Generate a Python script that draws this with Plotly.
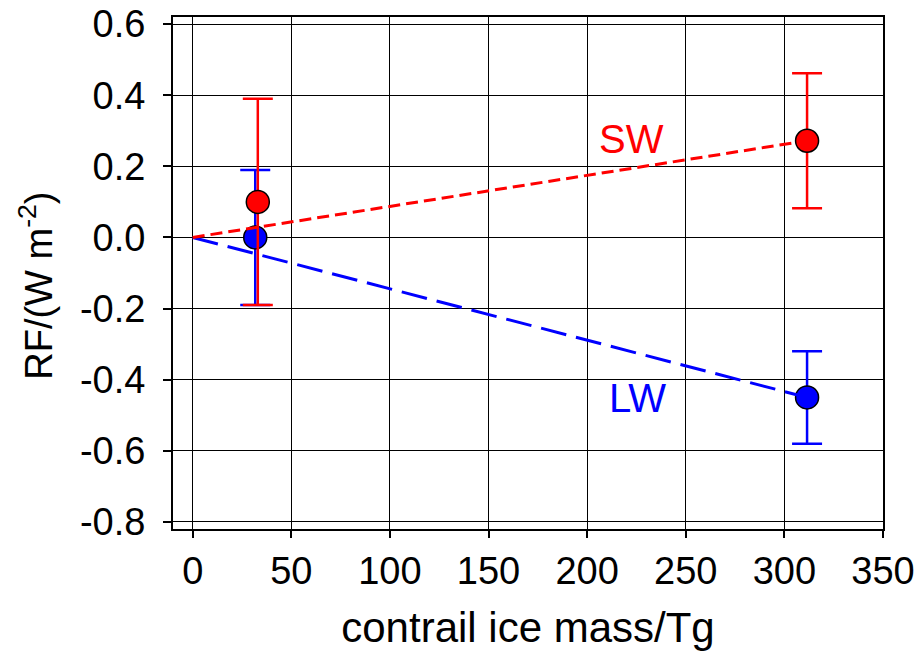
import plotly.graph_objects as go

# Data
mass_lw = [31.7, 311.5]
rf_lw = [0.0, -0.45]
err_lw = [0.19, 0.13]

mass_sw = [33.0, 311.5]
rf_sw = [0.10, 0.272]
err_sw = [0.29, 0.19]

# fitted lines through origin
line_x = [0, 311.5]
line_sw = [0, 0.272]
line_lw = [0, -0.45]

xticks = [0, 50, 100, 150, 200, 250, 300, 350]
yticks = [-0.8, -0.6, -0.4, -0.2, 0.0, 0.2, 0.4, 0.6]
ytick_text = ["-0.8", "-0.6", "-0.4", "-0.2", "0.0", "0.2", "0.4", "0.6"]

FONT = "Liberation Sans, Arial, sans-serif"
RED = "#ff0000"
BLUE = "#0000ff"

fig = go.Figure()

fig.add_trace(go.Scatter(
    x=mass_lw, y=rf_lw, mode="markers",
    marker=dict(size=23, color=BLUE, line=dict(color="black", width=1.5)),
    error_y=dict(type="data", array=err_lw, color=BLUE, thickness=2.5, width=15),
    showlegend=False, hoverinfo="skip"))

fig.add_trace(go.Scatter(
    x=line_x, y=line_lw, mode="lines",
    line=dict(color=BLUE, width=3, dash="26px,10px"),
    showlegend=False, hoverinfo="skip"))

fig.add_trace(go.Scatter(
    x=line_x, y=line_sw, mode="lines",
    line=dict(color=RED, width=3, dash="12px,6px"),
    showlegend=False, hoverinfo="skip"))

fig.add_trace(go.Scatter(
    x=mass_sw, y=rf_sw, mode="markers",
    marker=dict(size=23, color=RED, line=dict(color="black", width=1.5)),
    error_y=dict(type="data", array=err_sw, color=RED, thickness=2.5, width=15),
    showlegend=False, hoverinfo="skip"))

fig.add_annotation(x=222.6, y=0.278, xref="x", yref="y", text="SW",
                   showarrow=False, font=dict(family=FONT, size=40, color=RED))
fig.add_annotation(x=225.6, y=-0.452, xref="x", yref="y", text="LW",
                   showarrow=False, font=dict(family=FONT, size=40, color=BLUE))

# y-axis title placed as a rotated annotation for exact positioning
fig.add_annotation(x=-0.193, y=0.475, xref="paper", yref="paper",
                   text="RF/(W m<sup>-2</sup>)", textangle=-90,
                   xanchor="center", yanchor="middle", showarrow=False,
                   font=dict(family=FONT, size=38, color="black"))

fig.update_layout(
    width=919, height=661,
    margin=dict(l=173, r=36, t=17, b=132, autoexpand=False),
    paper_bgcolor="white", plot_bgcolor="white",
    font=dict(family=FONT, color="black"),
    xaxis=dict(
        range=[-10, 350], tickmode="array", tickvals=xticks,
        ticks="outside", ticklen=7, tickwidth=1.5, tickcolor="black",
        showgrid=True, gridcolor="black", gridwidth=1,
        showline=True, linecolor="black", linewidth=2, mirror=True,
        zeroline=False, automargin=False,
        tickfont=dict(family=FONT, size=38, color="black"),
        title=dict(text="contrail ice mass/Tg", font=dict(family=FONT, size=42, color="black"), standoff=22),
    ),
    yaxis=dict(
        range=[-0.82, 0.62], tickmode="array", tickvals=yticks, ticktext=ytick_text,
        ticks="outside", ticklen=8, tickwidth=1.5, tickcolor="black",
        showgrid=True, gridcolor="black", gridwidth=1,
        showline=True, linecolor="black", linewidth=2, mirror=True,
        zeroline=False, automargin=False, ticklabelstandoff=10,
        tickfont=dict(family=FONT, size=38, color="black"),
    ),
)

fig.write_html("out.html")
